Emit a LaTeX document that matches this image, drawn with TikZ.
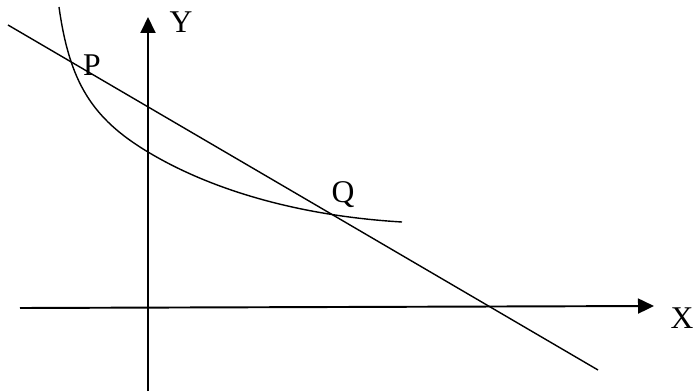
\documentclass[tikz,border=0pt]{standalone}
\usepackage{fontspec}
\setmainfont{Liberation Serif}
\usepackage{tikz}
\usetikzlibrary{positioning,arrows.meta}

\begin{document}
\begin{tikzpicture}[
        axis/.style={line width=1.1pt, -{Triangle[length=3.2mm,width=3mm]}},
        graph/.style={line width=0.8pt},
        lbl/.style={font=\fontsize{18}{20}\selectfont, inner sep=0pt}
    ]
        \useasboundingbox (-2.96,-1.68) rectangle (10.9,6.14);

        % Axes
        \coordinate (xstart) at (-2.56,-0.02);
        \coordinate (xend) at (10.12,0.02);
        \coordinate (ystart) at (0,-1.68);
        \coordinate (yend) at (0,5.8);
        \draw[axis] (xstart) -- (xend);
        \draw[axis] (ystart) -- (yend);
        \node[lbl] (xlbl) at (10.68,-0.22) {X};
        \node[lbl] (ylbl) at (0.66,5.70) {Y};

        % Straight line
        \coordinate (lstart) at (-2.8,5.64);
        \coordinate (lend) at (9.0,-1.26);
        \draw[graph] (lstart) -- (lend);

        % Curve
        \coordinate (ctop) at (-1.78,6.0);
        \coordinate (cmid) at (0,3.1);
        \coordinate (cend) at (5.08,1.70);
        \draw[graph] (ctop) .. controls (-1.57,4.5) and (-1.125,3.775) .. (cmid)
            .. controls (1.32,2.307) and (3.10,1.817) .. (cend);

        % Intersection points
        \node[lbl] (P) at (-1.12,4.84) {P};
        \node[lbl] (Q) at (3.9,2.24) {Q};
    \end{tikzpicture}
\end{document}
